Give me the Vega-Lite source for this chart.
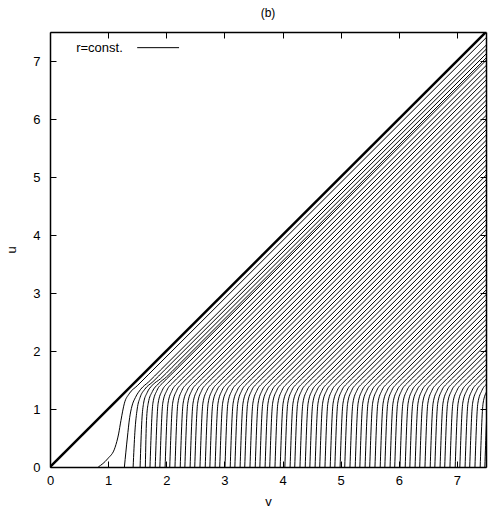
{
"$schema": "https://vega.github.io/schema/vega-lite/v6.json",
"width": 436, "height": 435,
"autosize": {"type": "none"},
"padding": {"left": 50, "top": 32, "right": 10, "bottom": 47},
"background": "white",
"title": {"text": "(b)", "fontSize": 12, "font": "Liberation Sans", "fontWeight": "normal", "anchor": "middle", "offset": 12, "color": "black"},
"config": {
  "view": {"stroke": null},
  "title": {"color": "black"},
  "axis": {"grid": false, "domainColor": "black", "domainWidth": 1.5, "tickColor": "black", "tickWidth": 1, "tickSize": -6,
    "labelFont": "Liberation Sans", "labelFontSize": 13, "labelColor": "black", "labelFlush": false, "labelOverlap": false,
    "titleFont": "Liberation Sans", "titleFontSize": 13, "titleFontWeight": "normal", "titleColor": "black"},
  "axisX": {"labelPadding": 13, "titlePadding": 8},
  "axisY": {"labelPadding": 16, "titlePadding": 14}
},
"resolve": {"axis": {"x": "independent", "y": "independent"}},
"layer": [
{
 "data": {"values": [
{"c":0,"v":0.83,"u":0},{"c":0,"v":0.99,"u":0.14},{"c":0,"v":1.12,"u":0.34},{"c":0,"v":1.18,"u":0.57},{"c":0,"v":1.22,"u":0.8},{"c":0,"v":1.28,"u":1.1},{"c":0,"v":1.36,"u":1.26},{"c":0,"v":1.5,"u":1.4},{"c":0,"v":1.7,"u":1.6},{"c":0,"v":8.5,"u":8.4},
{"c":1,"v":1.28,"u":0},{"c":1,"v":1.33,"u":0.5},{"c":1,"v":1.37,"u":0.85},{"c":1,"v":1.41,"u":1.05},{"c":1,"v":1.47,"u":1.2},{"c":1,"v":1.56,"u":1.34},{"c":1,"v":1.7,"u":1.47},{"c":1,"v":1.9,"u":1.67},{"c":1,"v":8.5,"u":8.27},
{"c":2,"v":1.43,"u":0},{"c":2,"v":1.46,"u":0.6},{"c":2,"v":1.5,"u":1.0},{"c":2,"v":1.55,"u":1.2},{"c":2,"v":1.63,"u":1.34},{"c":2,"v":1.77,"u":1.47},{"c":2,"v":1.97,"u":1.67},{"c":2,"v":8.5,"u":8.2},
{"c":3,"v":1.55,"u":0},{"c":3,"v":1.58,"u":0.8},{"c":3,"v":1.61,"u":1.1},{"c":3,"v":1.67,"u":1.28},{"c":3,"v":1.76,"u":1.41},{"c":3,"v":1.9,"u":1.52},{"c":3,"v":2.1,"u":1.72},{"c":3,"v":8.5,"u":8.12},
{"c":4,"v":1.64,"u":0},{"c":4,"v":1.66,"u":0.8},{"c":4,"v":1.69,"u":1.1},{"c":4,"v":1.76,"u":1.3},{"c":4,"v":1.86,"u":1.43},{"c":4,"v":2.0,"u":1.55},{"c":4,"v":2.2,"u":1.75},{"c":4,"v":8.5,"u":8.05},
{"c":5,"v":1.72,"u":0},{"c":5,"v":1.77,"u":1.1},{"c":5,"v":1.84,"u":1.32},{"c":5,"v":1.94,"u":1.45},{"c":5,"v":2.07,"u":1.58},{"c":5,"v":8.72,"u":8.23},
{"c":6,"v":1.81,"u":0},{"c":6,"v":1.86,"u":1.1},{"c":6,"v":1.93,"u":1.32},{"c":6,"v":2.03,"u":1.45},{"c":6,"v":2.16,"u":1.58},{"c":6,"v":8.81,"u":8.23},
{"c":7,"v":1.89,"u":0},{"c":7,"v":1.94,"u":1.1},{"c":7,"v":2.01,"u":1.32},{"c":7,"v":2.11,"u":1.45},{"c":7,"v":2.24,"u":1.58},{"c":7,"v":8.89,"u":8.23},
{"c":8,"v":1.98,"u":0},{"c":8,"v":2.03,"u":1.1},{"c":8,"v":2.10,"u":1.32},{"c":8,"v":2.20,"u":1.45},{"c":8,"v":2.33,"u":1.58},{"c":8,"v":8.98,"u":8.23},
{"c":9,"v":2.06,"u":0},{"c":9,"v":2.11,"u":1.1},{"c":9,"v":2.18,"u":1.32},{"c":9,"v":2.28,"u":1.45},{"c":9,"v":2.41,"u":1.58},{"c":9,"v":9.06,"u":8.23},
{"c":10,"v":2.15,"u":0},{"c":10,"v":2.20,"u":1.1},{"c":10,"v":2.27,"u":1.32},{"c":10,"v":2.37,"u":1.45},{"c":10,"v":2.50,"u":1.58},{"c":10,"v":9.15,"u":8.23},
{"c":11,"v":2.24,"u":0},{"c":11,"v":2.29,"u":1.1},{"c":11,"v":2.36,"u":1.32},{"c":11,"v":2.46,"u":1.45},{"c":11,"v":2.59,"u":1.58},{"c":11,"v":9.24,"u":8.23},
{"c":12,"v":2.32,"u":0},{"c":12,"v":2.37,"u":1.1},{"c":12,"v":2.44,"u":1.32},{"c":12,"v":2.54,"u":1.45},{"c":12,"v":2.67,"u":1.58},{"c":12,"v":9.32,"u":8.23},
{"c":13,"v":2.41,"u":0},{"c":13,"v":2.46,"u":1.1},{"c":13,"v":2.53,"u":1.32},{"c":13,"v":2.63,"u":1.45},{"c":13,"v":2.76,"u":1.58},{"c":13,"v":9.41,"u":8.23},
{"c":14,"v":2.49,"u":0},{"c":14,"v":2.54,"u":1.1},{"c":14,"v":2.61,"u":1.32},{"c":14,"v":2.71,"u":1.45},{"c":14,"v":2.84,"u":1.58},{"c":14,"v":9.49,"u":8.23},
{"c":15,"v":2.58,"u":0},{"c":15,"v":2.63,"u":1.1},{"c":15,"v":2.70,"u":1.32},{"c":15,"v":2.80,"u":1.45},{"c":15,"v":2.93,"u":1.58},{"c":15,"v":9.58,"u":8.23},
{"c":16,"v":2.67,"u":0},{"c":16,"v":2.72,"u":1.1},{"c":16,"v":2.79,"u":1.32},{"c":16,"v":2.89,"u":1.45},{"c":16,"v":3.02,"u":1.58},{"c":16,"v":9.67,"u":8.23},
{"c":17,"v":2.75,"u":0},{"c":17,"v":2.80,"u":1.1},{"c":17,"v":2.87,"u":1.32},{"c":17,"v":2.97,"u":1.45},{"c":17,"v":3.10,"u":1.58},{"c":17,"v":9.75,"u":8.23},
{"c":18,"v":2.84,"u":0},{"c":18,"v":2.89,"u":1.1},{"c":18,"v":2.96,"u":1.32},{"c":18,"v":3.06,"u":1.45},{"c":18,"v":3.19,"u":1.58},{"c":18,"v":9.84,"u":8.23},
{"c":19,"v":2.92,"u":0},{"c":19,"v":2.97,"u":1.1},{"c":19,"v":3.04,"u":1.32},{"c":19,"v":3.14,"u":1.45},{"c":19,"v":3.27,"u":1.58},{"c":19,"v":9.92,"u":8.23},
{"c":20,"v":3.01,"u":0},{"c":20,"v":3.06,"u":1.1},{"c":20,"v":3.13,"u":1.32},{"c":20,"v":3.23,"u":1.45},{"c":20,"v":3.36,"u":1.58},{"c":20,"v":10.01,"u":8.23},
{"c":21,"v":3.10,"u":0},{"c":21,"v":3.15,"u":1.1},{"c":21,"v":3.22,"u":1.32},{"c":21,"v":3.32,"u":1.45},{"c":21,"v":3.45,"u":1.58},{"c":21,"v":10.10,"u":8.23},
{"c":22,"v":3.18,"u":0},{"c":22,"v":3.23,"u":1.1},{"c":22,"v":3.30,"u":1.32},{"c":22,"v":3.40,"u":1.45},{"c":22,"v":3.53,"u":1.58},{"c":22,"v":10.18,"u":8.23},
{"c":23,"v":3.27,"u":0},{"c":23,"v":3.32,"u":1.1},{"c":23,"v":3.39,"u":1.32},{"c":23,"v":3.49,"u":1.45},{"c":23,"v":3.62,"u":1.58},{"c":23,"v":10.27,"u":8.23},
{"c":24,"v":3.35,"u":0},{"c":24,"v":3.40,"u":1.1},{"c":24,"v":3.47,"u":1.32},{"c":24,"v":3.57,"u":1.45},{"c":24,"v":3.70,"u":1.58},{"c":24,"v":10.35,"u":8.23},
{"c":25,"v":3.44,"u":0},{"c":25,"v":3.49,"u":1.1},{"c":25,"v":3.56,"u":1.32},{"c":25,"v":3.66,"u":1.45},{"c":25,"v":3.79,"u":1.58},{"c":25,"v":10.44,"u":8.23},
{"c":26,"v":3.53,"u":0},{"c":26,"v":3.58,"u":1.1},{"c":26,"v":3.65,"u":1.32},{"c":26,"v":3.75,"u":1.45},{"c":26,"v":3.88,"u":1.58},{"c":26,"v":10.53,"u":8.23},
{"c":27,"v":3.61,"u":0},{"c":27,"v":3.66,"u":1.1},{"c":27,"v":3.73,"u":1.32},{"c":27,"v":3.83,"u":1.45},{"c":27,"v":3.96,"u":1.58},{"c":27,"v":10.61,"u":8.23},
{"c":28,"v":3.70,"u":0},{"c":28,"v":3.75,"u":1.1},{"c":28,"v":3.82,"u":1.32},{"c":28,"v":3.92,"u":1.45},{"c":28,"v":4.05,"u":1.58},{"c":28,"v":10.70,"u":8.23},
{"c":29,"v":3.78,"u":0},{"c":29,"v":3.83,"u":1.1},{"c":29,"v":3.90,"u":1.32},{"c":29,"v":4.00,"u":1.45},{"c":29,"v":4.13,"u":1.58},{"c":29,"v":10.78,"u":8.23},
{"c":30,"v":3.87,"u":0},{"c":30,"v":3.92,"u":1.1},{"c":30,"v":3.99,"u":1.32},{"c":30,"v":4.09,"u":1.45},{"c":30,"v":4.22,"u":1.58},{"c":30,"v":10.87,"u":8.23},
{"c":31,"v":3.96,"u":0},{"c":31,"v":4.01,"u":1.1},{"c":31,"v":4.08,"u":1.32},{"c":31,"v":4.18,"u":1.45},{"c":31,"v":4.31,"u":1.58},{"c":31,"v":10.96,"u":8.23},
{"c":32,"v":4.04,"u":0},{"c":32,"v":4.09,"u":1.1},{"c":32,"v":4.16,"u":1.32},{"c":32,"v":4.26,"u":1.45},{"c":32,"v":4.39,"u":1.58},{"c":32,"v":11.04,"u":8.23},
{"c":33,"v":4.13,"u":0},{"c":33,"v":4.18,"u":1.1},{"c":33,"v":4.25,"u":1.32},{"c":33,"v":4.35,"u":1.45},{"c":33,"v":4.48,"u":1.58},{"c":33,"v":11.13,"u":8.23},
{"c":34,"v":4.21,"u":0},{"c":34,"v":4.26,"u":1.1},{"c":34,"v":4.33,"u":1.32},{"c":34,"v":4.43,"u":1.45},{"c":34,"v":4.56,"u":1.58},{"c":34,"v":11.21,"u":8.23},
{"c":35,"v":4.30,"u":0},{"c":35,"v":4.35,"u":1.1},{"c":35,"v":4.42,"u":1.32},{"c":35,"v":4.52,"u":1.45},{"c":35,"v":4.65,"u":1.58},{"c":35,"v":11.30,"u":8.23},
{"c":36,"v":4.39,"u":0},{"c":36,"v":4.44,"u":1.1},{"c":36,"v":4.51,"u":1.32},{"c":36,"v":4.61,"u":1.45},{"c":36,"v":4.74,"u":1.58},{"c":36,"v":11.39,"u":8.23},
{"c":37,"v":4.47,"u":0},{"c":37,"v":4.52,"u":1.1},{"c":37,"v":4.59,"u":1.32},{"c":37,"v":4.69,"u":1.45},{"c":37,"v":4.82,"u":1.58},{"c":37,"v":11.47,"u":8.23},
{"c":38,"v":4.56,"u":0},{"c":38,"v":4.61,"u":1.1},{"c":38,"v":4.68,"u":1.32},{"c":38,"v":4.78,"u":1.45},{"c":38,"v":4.91,"u":1.58},{"c":38,"v":11.56,"u":8.23},
{"c":39,"v":4.64,"u":0},{"c":39,"v":4.69,"u":1.1},{"c":39,"v":4.76,"u":1.32},{"c":39,"v":4.86,"u":1.45},{"c":39,"v":4.99,"u":1.58},{"c":39,"v":11.64,"u":8.23},
{"c":40,"v":4.73,"u":0},{"c":40,"v":4.78,"u":1.1},{"c":40,"v":4.85,"u":1.32},{"c":40,"v":4.95,"u":1.45},{"c":40,"v":5.08,"u":1.58},{"c":40,"v":11.73,"u":8.23},
{"c":41,"v":4.82,"u":0},{"c":41,"v":4.87,"u":1.1},{"c":41,"v":4.94,"u":1.32},{"c":41,"v":5.04,"u":1.45},{"c":41,"v":5.17,"u":1.58},{"c":41,"v":11.82,"u":8.23},
{"c":42,"v":4.90,"u":0},{"c":42,"v":4.95,"u":1.1},{"c":42,"v":5.02,"u":1.32},{"c":42,"v":5.12,"u":1.45},{"c":42,"v":5.25,"u":1.58},{"c":42,"v":11.90,"u":8.23},
{"c":43,"v":4.99,"u":0},{"c":43,"v":5.04,"u":1.1},{"c":43,"v":5.11,"u":1.32},{"c":43,"v":5.21,"u":1.45},{"c":43,"v":5.34,"u":1.58},{"c":43,"v":11.99,"u":8.23},
{"c":44,"v":5.07,"u":0},{"c":44,"v":5.12,"u":1.1},{"c":44,"v":5.19,"u":1.32},{"c":44,"v":5.29,"u":1.45},{"c":44,"v":5.42,"u":1.58},{"c":44,"v":12.07,"u":8.23},
{"c":45,"v":5.16,"u":0},{"c":45,"v":5.21,"u":1.1},{"c":45,"v":5.28,"u":1.32},{"c":45,"v":5.38,"u":1.45},{"c":45,"v":5.51,"u":1.58},{"c":45,"v":12.16,"u":8.23},
{"c":46,"v":5.25,"u":0},{"c":46,"v":5.30,"u":1.1},{"c":46,"v":5.37,"u":1.32},{"c":46,"v":5.47,"u":1.45},{"c":46,"v":5.60,"u":1.58},{"c":46,"v":12.25,"u":8.23},
{"c":47,"v":5.33,"u":0},{"c":47,"v":5.38,"u":1.1},{"c":47,"v":5.45,"u":1.32},{"c":47,"v":5.55,"u":1.45},{"c":47,"v":5.68,"u":1.58},{"c":47,"v":12.33,"u":8.23},
{"c":48,"v":5.42,"u":0},{"c":48,"v":5.47,"u":1.1},{"c":48,"v":5.54,"u":1.32},{"c":48,"v":5.64,"u":1.45},{"c":48,"v":5.77,"u":1.58},{"c":48,"v":12.42,"u":8.23},
{"c":49,"v":5.50,"u":0},{"c":49,"v":5.55,"u":1.1},{"c":49,"v":5.62,"u":1.32},{"c":49,"v":5.72,"u":1.45},{"c":49,"v":5.85,"u":1.58},{"c":49,"v":12.50,"u":8.23},
{"c":50,"v":5.59,"u":0},{"c":50,"v":5.64,"u":1.1},{"c":50,"v":5.71,"u":1.32},{"c":50,"v":5.81,"u":1.45},{"c":50,"v":5.94,"u":1.58},{"c":50,"v":12.59,"u":8.23},
{"c":51,"v":5.68,"u":0},{"c":51,"v":5.73,"u":1.1},{"c":51,"v":5.80,"u":1.32},{"c":51,"v":5.90,"u":1.45},{"c":51,"v":6.03,"u":1.58},{"c":51,"v":12.68,"u":8.23},
{"c":52,"v":5.76,"u":0},{"c":52,"v":5.81,"u":1.1},{"c":52,"v":5.88,"u":1.32},{"c":52,"v":5.98,"u":1.45},{"c":52,"v":6.11,"u":1.58},{"c":52,"v":12.76,"u":8.23},
{"c":53,"v":5.85,"u":0},{"c":53,"v":5.90,"u":1.1},{"c":53,"v":5.97,"u":1.32},{"c":53,"v":6.07,"u":1.45},{"c":53,"v":6.20,"u":1.58},{"c":53,"v":12.85,"u":8.23},
{"c":54,"v":5.93,"u":0},{"c":54,"v":5.98,"u":1.1},{"c":54,"v":6.05,"u":1.32},{"c":54,"v":6.15,"u":1.45},{"c":54,"v":6.28,"u":1.58},{"c":54,"v":12.93,"u":8.23},
{"c":55,"v":6.02,"u":0},{"c":55,"v":6.07,"u":1.1},{"c":55,"v":6.14,"u":1.32},{"c":55,"v":6.24,"u":1.45},{"c":55,"v":6.37,"u":1.58},{"c":55,"v":13.02,"u":8.23},
{"c":56,"v":6.11,"u":0},{"c":56,"v":6.16,"u":1.1},{"c":56,"v":6.23,"u":1.32},{"c":56,"v":6.33,"u":1.45},{"c":56,"v":6.46,"u":1.58},{"c":56,"v":13.11,"u":8.23},
{"c":57,"v":6.19,"u":0},{"c":57,"v":6.24,"u":1.1},{"c":57,"v":6.31,"u":1.32},{"c":57,"v":6.41,"u":1.45},{"c":57,"v":6.54,"u":1.58},{"c":57,"v":13.19,"u":8.23},
{"c":58,"v":6.28,"u":0},{"c":58,"v":6.33,"u":1.1},{"c":58,"v":6.40,"u":1.32},{"c":58,"v":6.50,"u":1.45},{"c":58,"v":6.63,"u":1.58},{"c":58,"v":13.28,"u":8.23},
{"c":59,"v":6.36,"u":0},{"c":59,"v":6.41,"u":1.1},{"c":59,"v":6.48,"u":1.32},{"c":59,"v":6.58,"u":1.45},{"c":59,"v":6.71,"u":1.58},{"c":59,"v":13.36,"u":8.23},
{"c":60,"v":6.45,"u":0},{"c":60,"v":6.50,"u":1.1},{"c":60,"v":6.57,"u":1.32},{"c":60,"v":6.67,"u":1.45},{"c":60,"v":6.80,"u":1.58},{"c":60,"v":13.45,"u":8.23},
{"c":61,"v":6.54,"u":0},{"c":61,"v":6.59,"u":1.1},{"c":61,"v":6.66,"u":1.32},{"c":61,"v":6.76,"u":1.45},{"c":61,"v":6.89,"u":1.58},{"c":61,"v":13.54,"u":8.23},
{"c":62,"v":6.62,"u":0},{"c":62,"v":6.67,"u":1.1},{"c":62,"v":6.74,"u":1.32},{"c":62,"v":6.84,"u":1.45},{"c":62,"v":6.97,"u":1.58},{"c":62,"v":13.62,"u":8.23},
{"c":63,"v":6.71,"u":0},{"c":63,"v":6.76,"u":1.1},{"c":63,"v":6.83,"u":1.32},{"c":63,"v":6.93,"u":1.45},{"c":63,"v":7.06,"u":1.58},{"c":63,"v":13.71,"u":8.23},
{"c":64,"v":6.79,"u":0},{"c":64,"v":6.84,"u":1.1},{"c":64,"v":6.91,"u":1.32},{"c":64,"v":7.01,"u":1.45},{"c":64,"v":7.14,"u":1.58},{"c":64,"v":13.79,"u":8.23},
{"c":65,"v":6.88,"u":0},{"c":65,"v":6.93,"u":1.1},{"c":65,"v":7.00,"u":1.32},{"c":65,"v":7.10,"u":1.45},{"c":65,"v":7.23,"u":1.58},{"c":65,"v":13.88,"u":8.23},
{"c":66,"v":6.97,"u":0},{"c":66,"v":7.02,"u":1.1},{"c":66,"v":7.09,"u":1.32},{"c":66,"v":7.19,"u":1.45},{"c":66,"v":7.32,"u":1.58},{"c":66,"v":13.97,"u":8.23},
{"c":67,"v":7.05,"u":0},{"c":67,"v":7.10,"u":1.1},{"c":67,"v":7.17,"u":1.32},{"c":67,"v":7.27,"u":1.45},{"c":67,"v":7.40,"u":1.58},{"c":67,"v":14.05,"u":8.23},
{"c":68,"v":7.14,"u":0},{"c":68,"v":7.19,"u":1.1},{"c":68,"v":7.26,"u":1.32},{"c":68,"v":7.36,"u":1.45},{"c":68,"v":7.49,"u":1.58},{"c":68,"v":14.14,"u":8.23},
{"c":69,"v":7.22,"u":0},{"c":69,"v":7.27,"u":1.1},{"c":69,"v":7.34,"u":1.32},{"c":69,"v":7.44,"u":1.45},{"c":69,"v":7.57,"u":1.58},{"c":69,"v":14.22,"u":8.23},
{"c":70,"v":7.31,"u":0},{"c":70,"v":7.36,"u":1.1},{"c":70,"v":7.43,"u":1.32},{"c":70,"v":7.53,"u":1.45},{"c":70,"v":7.66,"u":1.58},{"c":70,"v":14.31,"u":8.23},
{"c":71,"v":7.40,"u":0},{"c":71,"v":7.45,"u":1.1},{"c":71,"v":7.52,"u":1.32},{"c":71,"v":7.62,"u":1.45},{"c":71,"v":7.75,"u":1.58},{"c":71,"v":14.40,"u":8.23},
{"c":72,"v":7.48,"u":0},{"c":72,"v":7.53,"u":1.1},{"c":72,"v":7.60,"u":1.32},{"c":72,"v":7.70,"u":1.45},{"c":72,"v":7.83,"u":1.58},{"c":72,"v":14.48,"u":8.23}
 ]},
 "mark": {"type": "line", "interpolate": "monotone", "color": "black", "strokeWidth": 1, "clip": true},
 "encoding": {
   "x": {"field": "v", "type": "quantitative", "scale": {"domain": [0, 7.5], "nice": false, "zero": false}, "axis": {"title": "v", "values": [0,1,2,3,4,5,6,7]}},
   "y": {"field": "u", "type": "quantitative", "scale": {"domain": [0, 7.5], "nice": false, "zero": false}, "axis": {"title": "u", "values": [0,1,2,3,4,5,6,7]}},
   "detail": {"field": "c", "type": "nominal"}
 }
},
{
 "data": {"values": [{"v": 0, "u": 0}, {"v": 7.5, "u": 7.5}]},
 "mark": {"type": "line", "color": "black", "strokeWidth": 2.5, "clip": true},
 "encoding": {
   "x": {"field": "v", "type": "quantitative", "axis": {"orient": "top", "labels": false, "title": null, "values": [0,1,2,3,4,5,6,7]}},
   "y": {"field": "u", "type": "quantitative", "axis": {"orient": "right", "labels": false, "title": null, "values": [0,1,2,3,4,5,6,7]}}
 }
},
{
 "data": {"values": [{"label": "r=const."}]},
 "mark": {"type": "text", "align": "left", "baseline": "middle", "font": "Liberation Sans", "fontSize": 13, "color": "black"},
 "encoding": {
   "x": {"datum": 0.45, "type": "quantitative", "axis": null},
   "y": {"datum": 7.22, "type": "quantitative", "axis": null},
   "text": {"field": "label"}
 }
},
{
 "data": {"values": [{"label": "r=const."}]},
 "mark": {"type": "rule", "color": "black", "strokeWidth": 1},
 "encoding": {
   "x": {"datum": 1.5, "type": "quantitative", "axis": null},
   "x2": {"datum": 2.22},
   "y": {"datum": 7.23, "type": "quantitative", "axis": null}
 }
}
]
}
